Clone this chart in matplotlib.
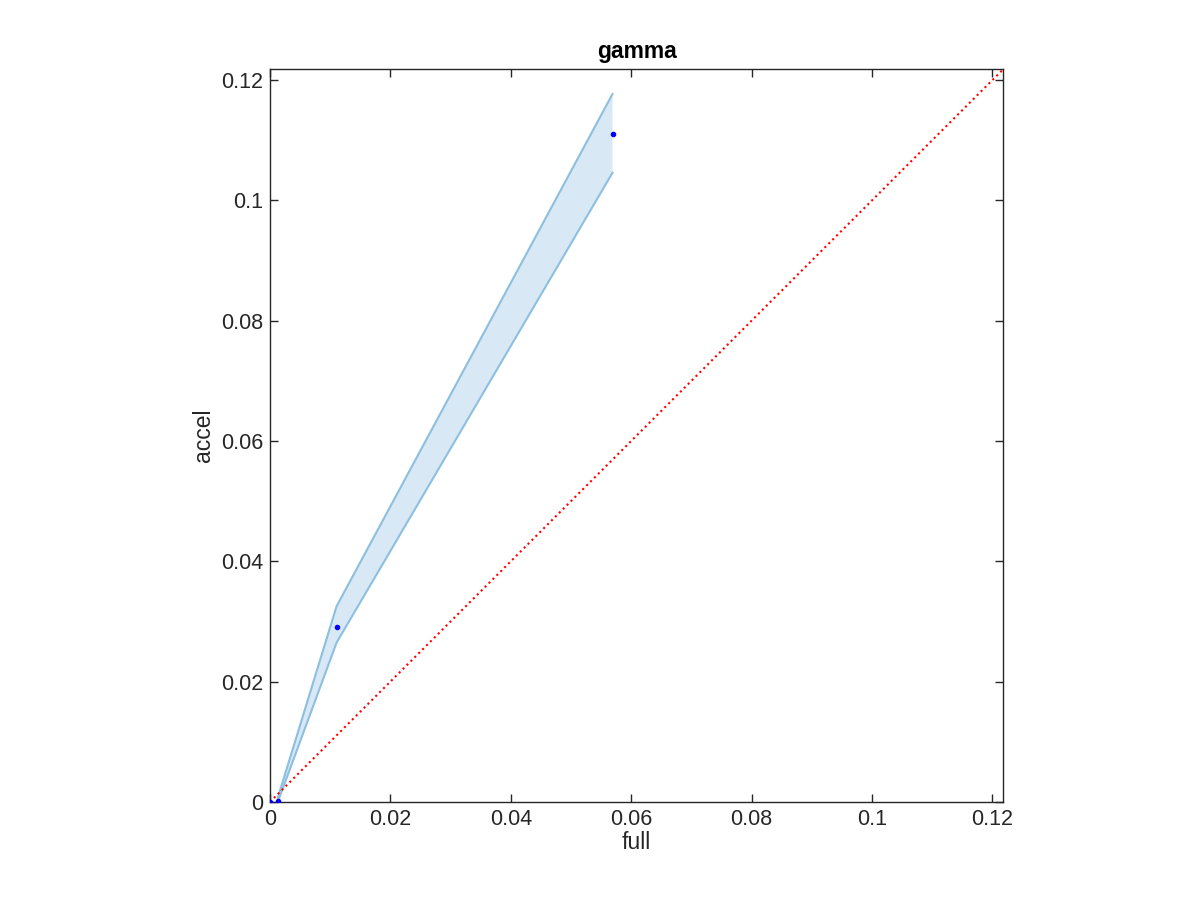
import numpy as np
import matplotlib
matplotlib.use("Agg")
import matplotlib.pyplot as plt
from matplotlib.ticker import FuncFormatter

# data
full = [0.0, 0.0013, 0.01107, 0.0569]
accel = [0.0, 0.0002, 0.02905, 0.1110]
band_x = [0.0013, 0.01107, 0.0569]
band_lo = [0.0, 0.0265, 0.1046]
band_hi = [0.0007, 0.03255, 0.1177]
lim = 0.1218

plt.rcParams['font.family'] = ['Liberation Sans', 'DejaVu Sans']

fig = plt.figure(figsize=(12, 9), dpi=100)
ax = fig.add_axes([0.225, 0.109, 0.611, 0.814])

ax.fill_between(band_x, band_lo, band_hi, facecolor=(0.85, 0.91, 0.96),
                edgecolor='none', zorder=1)
ax.plot(band_x, band_lo, color=(0.55, 0.75, 0.88), lw=1.5, zorder=2)
ax.plot(band_x, band_hi, color=(0.55, 0.75, 0.88), lw=1.5, zorder=2)
ax.plot([0, lim], [0, lim], ':', color='red', lw=1.5, zorder=3)
ax.plot(full, accel, '.', color='blue', ms=6, zorder=4)

ax.set_xlim(0, lim)
ax.set_ylim(0, lim)
ticks = np.arange(0, 0.121, 0.02)
ax.set_xticks(ticks)
ax.set_yticks(ticks)
fmt = FuncFormatter(lambda v, p: "%g" % round(v, 4))
ax.xaxis.set_major_formatter(fmt)
ax.yaxis.set_major_formatter(fmt)
ax.tick_params(direction='in', top=True, right=True, length=6, width=1,
               labelsize=15.5, colors=(0.15, 0.15, 0.15), pad=5)
for s in ax.spines.values():
    s.set_color((0.15, 0.15, 0.15))
    s.set_linewidth(1)

ax.set_title("gamma", fontsize=16.5, fontweight='bold', pad=8)
ax.set_xlabel("full", fontsize=16.5, color=(0.15, 0.15, 0.15), labelpad=1)
ax.set_ylabel("accel", fontsize=16.5, color=(0.15, 0.15, 0.15), labelpad=4)

fig.savefig("out.png")
